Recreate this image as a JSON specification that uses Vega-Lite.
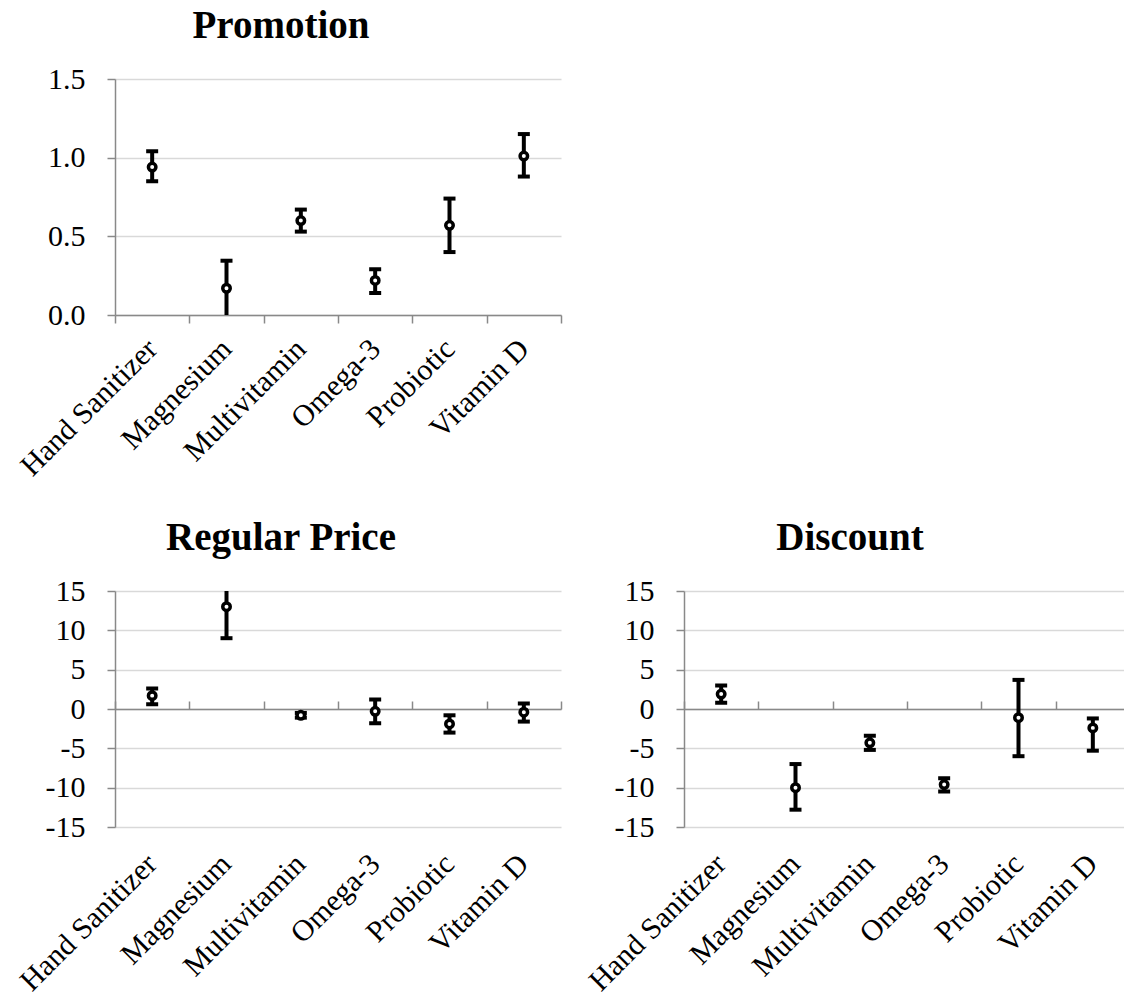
{
  "$schema": "https://vega.github.io/schema/vega-lite/v6.json",
  "background": "white",
  "padding": {"left": 14, "top": 7, "right": 0, "bottom": 0},
  "spacing": 37,
  "config": {
    "font": "Liberation Serif",
    "view": {"stroke": null},
    "title": {"font": "Liberation Serif", "fontSize": 39, "fontWeight": "bold", "color": "black", "anchor": "middle", "offset": 18, "dx": -57},
    "axis": {
      "labelFont": "Liberation Serif",
      "labelFontSize": 30,
      "labelColor": "black",
      "labelOverlap": false,
      "domainColor": "#898989",
      "domainWidth": 1.5,
      "tickColor": "#898989",
      "tickWidth": 1.5,
      "tickSize": 8,
      "gridColor": "#d9d9d9",
      "gridWidth": 1.5,
      "title": null
    }
  },
  "datasets": {
    "promotion": [
      {"product": "Hand Sanitizer", "mean": 0.94, "lo": 0.85, "hi": 1.04},
      {"product": "Magnesium", "mean": 0.17, "lo": -0.02, "hi": 0.345},
      {"product": "Multivitamin", "mean": 0.60, "lo": 0.53, "hi": 0.67},
      {"product": "Omega-3", "mean": 0.22, "lo": 0.14, "hi": 0.29},
      {"product": "Probiotic", "mean": 0.57, "lo": 0.40, "hi": 0.74},
      {"product": "Vitamin D", "mean": 1.01, "lo": 0.88, "hi": 1.15}
    ],
    "regular": [
      {"product": "Hand Sanitizer", "mean": 1.7, "lo": 0.6, "hi": 2.6},
      {"product": "Magnesium", "mean": 13.0, "lo": 9.0, "hi": 17.0},
      {"product": "Multivitamin", "mean": -0.8, "lo": -1.1, "hi": -0.5},
      {"product": "Omega-3", "mean": -0.3, "lo": -1.8, "hi": 1.2},
      {"product": "Probiotic", "mean": -1.9, "lo": -3.0, "hi": -0.8},
      {"product": "Vitamin D", "mean": -0.4, "lo": -1.6, "hi": 0.7}
    ],
    "discount": [
      {"product": "Hand Sanitizer", "mean": 1.9, "lo": 0.8, "hi": 3.0},
      {"product": "Magnesium", "mean": -10.0, "lo": -12.8, "hi": -7.0},
      {"product": "Multivitamin", "mean": -4.3, "lo": -5.2, "hi": -3.4},
      {"product": "Omega-3", "mean": -9.6, "lo": -10.5, "hi": -8.8},
      {"product": "Probiotic", "mean": -1.1, "lo": -6.0, "hi": 3.7},
      {"product": "Vitamin D", "mean": -2.4, "lo": -5.3, "hi": -1.2}
    ]
  },
  "vconcat": [
    {
      "title": "Promotion",
      "width": 446,
      "height": 236,
      "data": {"name": "promotion"},
      "encoding": {
        "x": {"field": "product", "type": "nominal", "bandPosition": 0.5,
          "scale": {"type": "band", "paddingInner": 0, "paddingOuter": 0},
          "axis": {"labelAngle": -45, "labelAlign": "right", "labelBaseline": "middle", "labelPadding": 21, "tickBand": "extent", "grid": false}
        },
        "y": {"type": "quantitative", "scale": {"domain": [0, 1.5], "nice": false, "zero": false},
          "axis": {"values": [0, 0.5, 1, 1.5], "tickCount": 4, "grid": true, "labelPadding": 22, "labelExpr": "format(datum.value, '.1f')"}
        }
      },
      "layer": [
        {"mark": {"type": "rule", "color": "black", "strokeWidth": 4, "clip": true},
         "encoding": {"y": {"field": "lo", "type": "quantitative"}, "y2": {"field": "hi"}}},
        {"mark": {"type": "tick", "color": "black", "thickness": 4, "size": 12, "clip": true, "opacity": 1},
         "encoding": {"y": {"field": "lo", "type": "quantitative"}}},
        {"mark": {"type": "tick", "color": "black", "thickness": 4, "size": 12, "clip": true, "opacity": 1},
         "encoding": {"y": {"field": "hi", "type": "quantitative"}}},
        {"mark": {"type": "point", "shape": "circle", "filled": false, "fill": "white", "fillOpacity": 1, "stroke": "black", "strokeWidth": 3.5, "size": 56, "opacity": 1},
         "encoding": {"y": {"field": "mean", "type": "quantitative"}}}
      ]
    },
    {
      "spacing": 21,
      "hconcat": [
        {
          "title": "Regular Price",
          "width": 446,
          "height": 236,
          "data": {"name": "regular"},
          "resolve": {"axis": {"x": "independent"}},
          "encoding": {
            "y": {"type": "quantitative", "scale": {"domain": [-15, 15], "nice": false},
              "axis": {"values": [-15, -10, -5, 0, 5, 10, 15], "tickCount": 7, "grid": true, "labelPadding": 22, "labelExpr": "datum.value + ''"}
            }
          },
          "layer": [
            {"mark": {"type": "rule", "color": "black", "strokeWidth": 4, "clip": true},
             "encoding": {
               "x": {"field": "product", "type": "nominal", "bandPosition": 0.5,
                 "scale": {"type": "band", "paddingInner": 0, "paddingOuter": 0},
                 "axis": {"labelAngle": -45, "labelAlign": "right", "labelBaseline": "middle", "labelPadding": 32, "domain": false, "ticks": false, "grid": false}
               },
               "y": {"field": "lo", "type": "quantitative"},
               "y2": {"field": "hi"}
             }},
            {"mark": {"type": "tick", "color": "black", "thickness": 4, "size": 12, "clip": true, "opacity": 1},
             "encoding": {
               "x": {"field": "product", "type": "nominal", "bandPosition": 0.5,
                 "axis": {"offset": -118, "labels": false, "domain": true, "ticks": true, "tickBand": "extent", "grid": false}
               },
               "y": {"field": "lo", "type": "quantitative"}
             }},
            {"mark": {"type": "tick", "color": "black", "thickness": 4, "size": 12, "clip": true, "opacity": 1},
             "encoding": {
               "x": {"field": "product", "type": "nominal", "bandPosition": 0.5, "axis": null},
               "y": {"field": "hi", "type": "quantitative"}
             }},
            {"mark": {"type": "point", "shape": "circle", "filled": false, "fill": "white", "fillOpacity": 1, "stroke": "black", "strokeWidth": 3.5, "size": 56, "opacity": 1},
             "encoding": {
               "x": {"field": "product", "type": "nominal", "bandPosition": 0.5, "axis": null},
               "y": {"field": "mean", "type": "quantitative"}
             }}
          ]
        },
        {
          "title": "Discount",
          "width": 446,
          "height": 236,
          "data": {"name": "discount"},
          "resolve": {"axis": {"x": "independent"}},
          "encoding": {
            "y": {"type": "quantitative", "scale": {"domain": [-15, 15], "nice": false},
              "axis": {"values": [-15, -10, -5, 0, 5, 10, 15], "tickCount": 7, "grid": true, "labelPadding": 22, "labelExpr": "datum.value + ''"}
            }
          },
          "layer": [
            {"mark": {"type": "rule", "color": "black", "strokeWidth": 4, "clip": true},
             "encoding": {
               "x": {"field": "product", "type": "nominal", "bandPosition": 0.5,
                 "scale": {"type": "band", "paddingInner": 0, "paddingOuter": 0},
                 "axis": {"labelAngle": -45, "labelAlign": "right", "labelBaseline": "middle", "labelPadding": 32, "domain": false, "ticks": false, "grid": false}
               },
               "y": {"field": "lo", "type": "quantitative"},
               "y2": {"field": "hi"}
             }},
            {"mark": {"type": "tick", "color": "black", "thickness": 4, "size": 12, "clip": true, "opacity": 1},
             "encoding": {
               "x": {"field": "product", "type": "nominal", "bandPosition": 0.5,
                 "axis": {"offset": -118, "labels": false, "domain": true, "ticks": true, "tickBand": "extent", "grid": false}
               },
               "y": {"field": "lo", "type": "quantitative"}
             }},
            {"mark": {"type": "tick", "color": "black", "thickness": 4, "size": 12, "clip": true, "opacity": 1},
             "encoding": {
               "x": {"field": "product", "type": "nominal", "bandPosition": 0.5, "axis": null},
               "y": {"field": "hi", "type": "quantitative"}
             }},
            {"mark": {"type": "point", "shape": "circle", "filled": false, "fill": "white", "fillOpacity": 1, "stroke": "black", "strokeWidth": 3.5, "size": 56, "opacity": 1},
             "encoding": {
               "x": {"field": "product", "type": "nominal", "bandPosition": 0.5, "axis": null},
               "y": {"field": "mean", "type": "quantitative"}
             }}
          ]
        }
      ]
    }
  ]
}
